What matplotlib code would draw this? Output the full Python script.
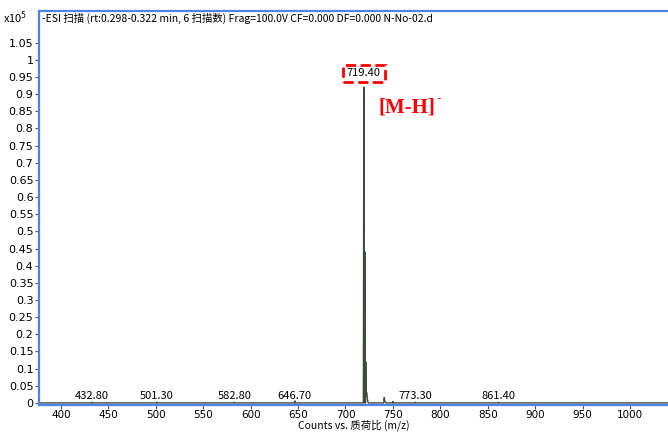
import matplotlib.pyplot as plt

plt.rcParams['font.family'] = ['Noto Sans CJK SC', 'DejaVu Sans']

# profile of the spectrum (m/z, counts x10^5)
mz = [377.0, 432.3, 432.8, 433.3, 500.8, 501.3, 501.8, 582.3, 582.8, 583.3,
      646.2, 646.7, 647.2, 718.9, 719.4, 719.8, 720.1, 720.4, 720.8, 721.1,
      721.4, 721.8, 722.4, 723.2, 724.0, 740.4, 740.9, 741.4, 742.0, 743.0,
      749.6, 750.1, 750.6, 772.8, 773.3, 773.8, 860.9, 861.4, 861.9, 1040.0]
counts = [0.0, 0.0, 0.002, 0.0, 0.0, 0.002, 0.0, 0.0, 0.002, 0.0,
          0.0, 0.006, 0.0, 0.0, 0.92, 0.03, 0.0, 0.44, 0.03, 0.0,
          0.12, 0.02, 0.03, 0.01, 0.0, 0.0, 0.016, 0.007, 0.003, 0.0,
          0.0, 0.004, 0.0, 0.0, 0.002, 0.0, 0.0, 0.002, 0.0, 0.0]

# labelled peaks
peak_mz = [432.80, 501.30, 582.80, 646.70, 773.30, 861.40]

base_mz = 719.40
base_y = 0.92

xticks = list(range(400, 1001, 50))
yticks = [i * 0.05 for i in range(22)]
ylabels = ['0', '0.05', '0.1', '0.15', '0.2', '0.25', '0.3', '0.35', '0.4', '0.45', '0.5',
           '0.55', '0.6', '0.65', '0.7', '0.75', '0.8', '0.85', '0.9', '0.95', '1', '1.05']

fig = plt.figure(figsize=(6.68, 4.32), dpi=100)
ax = fig.add_axes([0.0584, 0.0625, 0.9416, 0.912])

ax.plot(mz, counts, color='#3b4a3b', lw=1.0)

ax.set_xlim(377, 1040)
ax.set_ylim(-0.006, 1.142)
ax.set_xticks(xticks)
ax.set_yticks(yticks)
ax.set_yticklabels(ylabels)
ax.tick_params(direction='out', length=3, labelsize=8, pad=1, color='#555555')
ax.tick_params(axis='x', labelsize=7.5, pad=0.5)
for lbl in ax.get_xticklabels() + ax.get_yticklabels():
    lbl.set_fontweight('medium')
    lbl.set_family('DejaVu Sans')

blue = '#4a86e8'
for side in ['left', 'bottom', 'top']:
    ax.spines[side].set_color(blue)
    ax.spines[side].set_linewidth(1.6)
ax.spines['right'].set_visible(False)

for x in peak_mz:
    ax.text(x, 0.019, '%.2f' % x, ha='center', va='center', fontsize=8)

ax.text(base_mz, 0.96, '%.2f' % base_mz, ha='center', va='center', fontsize=8,
        bbox=dict(boxstyle='square,pad=0.35', fc='none', ec='red', ls='--', lw=2))

t1 = ax.text(734.5, 0.862, '[M-H]', ha='left', va='center', color='red',
             fontsize=15, fontweight='bold', family='Liberation Serif')
ax.annotate('-', xy=(1, 0.9), xycoords=t1, xytext=(1, 0), textcoords='offset points',
            ha='left', va='center', color='red', fontsize=10, fontweight='bold',
            family='Liberation Serif')

ax.text(0.004, 0.98,
        '-ESI 扫描 (rt:0.298-0.322 min, 6 扫描数) Frag=100.0V CF=0.000 DF=0.000 N-No-02.d',
        transform=ax.transAxes, ha='left', va='center', fontsize=7.5)

fig.text(0.004, 1 - 18 / 432, r'x10$^5$', ha='left', va='center', fontsize=8)
ax.set_xlabel('Counts vs. 质荷比 (m/z)', fontsize=7.5, labelpad=0)

fig.savefig('out.png', dpi=100)
